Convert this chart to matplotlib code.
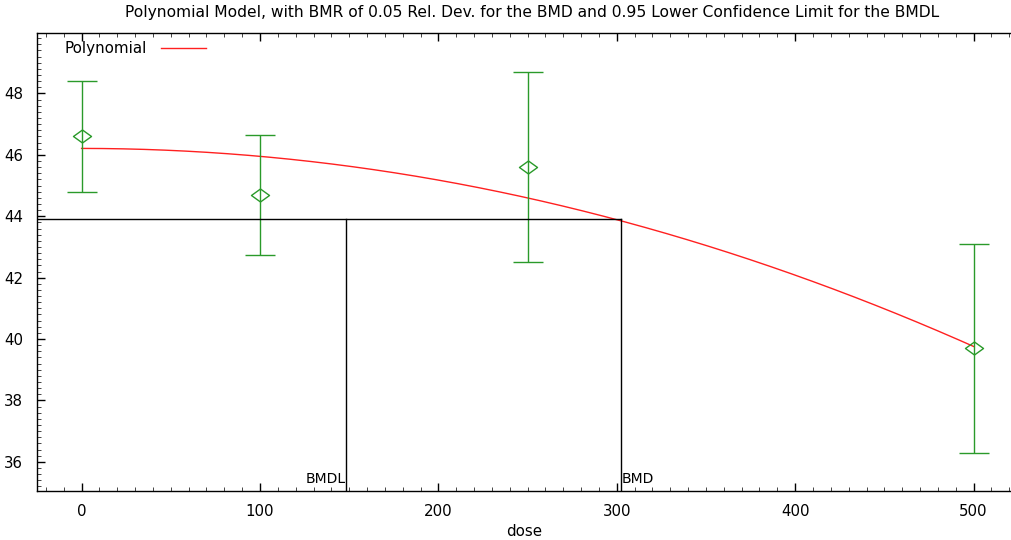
import numpy as np
import matplotlib
matplotlib.use("Agg")
import matplotlib.pyplot as plt
from matplotlib.ticker import MultipleLocator
from matplotlib.path import Path

plt.rcParams['font.family'] = ['DejaVu Sans']

doses = [0, 100, 250, 500]
means = [46.6, 44.7, 45.6, 39.7]
upper = [48.4, 46.65, 48.7, 43.1]
lower = [44.8, 42.75, 42.5, 36.3]

# Polynomial model: b0 + b1*x + b2*x^2
poly_coef = [46.21, 0.0, -2.58e-5]
bmr_level = 43.9
bmd = 302.5
bmdl = 148.0

title = "Polynomial Model, with BMR of 0.05 Rel. Dev. for the BMD and 0.95 Lower Confidence Limit for the BMDL"

fig = plt.figure(figsize=(10.11, 5.40), dpi=100)
ax = fig.add_axes([37/1011, 1 - 491/540, 1 - 37/1011, (491 - 33)/540])

xlim = (-25, 521)
ylim = (35.05, 49.97)

xs = np.linspace(0, 500, 300)
ys = poly_coef[0] + poly_coef[1] * xs + poly_coef[2] * xs**2
ax.plot(xs, ys, color='#ff2020', lw=1.0, label='Polynomial')

m = np.array(means)
yerr = [m - np.array(lower), np.array(upper) - m]
diamond = Path([(-1, 0), (0, 0.72), (1, 0), (0, -0.72), (-1, 0)],
               [Path.MOVETO, Path.LINETO, Path.LINETO, Path.LINETO, Path.CLOSEPOLY])
ax.errorbar(doses, means, yerr=yerr, fmt='none', ecolor='#2a9a2a', elinewidth=1.0,
            capsize=10.5, capthick=1.0)
ax.plot(doses, means, linestyle='none', marker=diamond, markersize=13,
        markerfacecolor='none', markeredgecolor='#2a9a2a', markeredgewidth=1.0)

# BMD / BMDL lines
ax.plot([xlim[0], bmd], [bmr_level, bmr_level], color='black', lw=1.0)
ax.plot([bmd, bmd], [ylim[0], bmr_level], color='black', lw=1.0)
ax.plot([bmdl, bmdl], [ylim[0], bmr_level], color='black', lw=1.0)
ax.text(bmdl, ylim[0] + 0.15, 'BMDL', ha='right', va='bottom', fontsize=10)
ax.text(bmd, ylim[0] + 0.15, 'BMD', ha='left', va='bottom', fontsize=10)

ax.set_xlim(*xlim)
ax.set_ylim(*ylim)
ax.xaxis.set_major_locator(MultipleLocator(100))
ax.xaxis.set_minor_locator(MultipleLocator(10))
ax.yaxis.set_major_locator(MultipleLocator(2))
ax.yaxis.set_minor_locator(MultipleLocator(0.2))
ax.tick_params(which='both', direction='in', top=True, right=False, labelsize=10.8)
ax.tick_params(which='major', length=6, width=1.0, pad=9)
ax.tick_params(which='minor', length=3, width=0.7, color='#444444')
ax.tick_params(axis='y', which='major', pad=10)
ax.spines['right'].set_visible(False)
for s in ['left', 'top', 'bottom']:
    ax.spines[s].set_linewidth(1.0)

ax.set_xlabel('dose', fontsize=10.8, labelpad=4)
fig.text(532/1011, 1 - 13/540, title, ha='center', va='center', fontsize=11.2)

ax.legend(loc='upper left', frameon=False, fontsize=10.9, markerfirst=False,
          handlelength=3.0, handletextpad=0.9, bbox_to_anchor=(0.02, 1.0), borderaxespad=0.15)

fig.savefig('out.png', dpi=100)
